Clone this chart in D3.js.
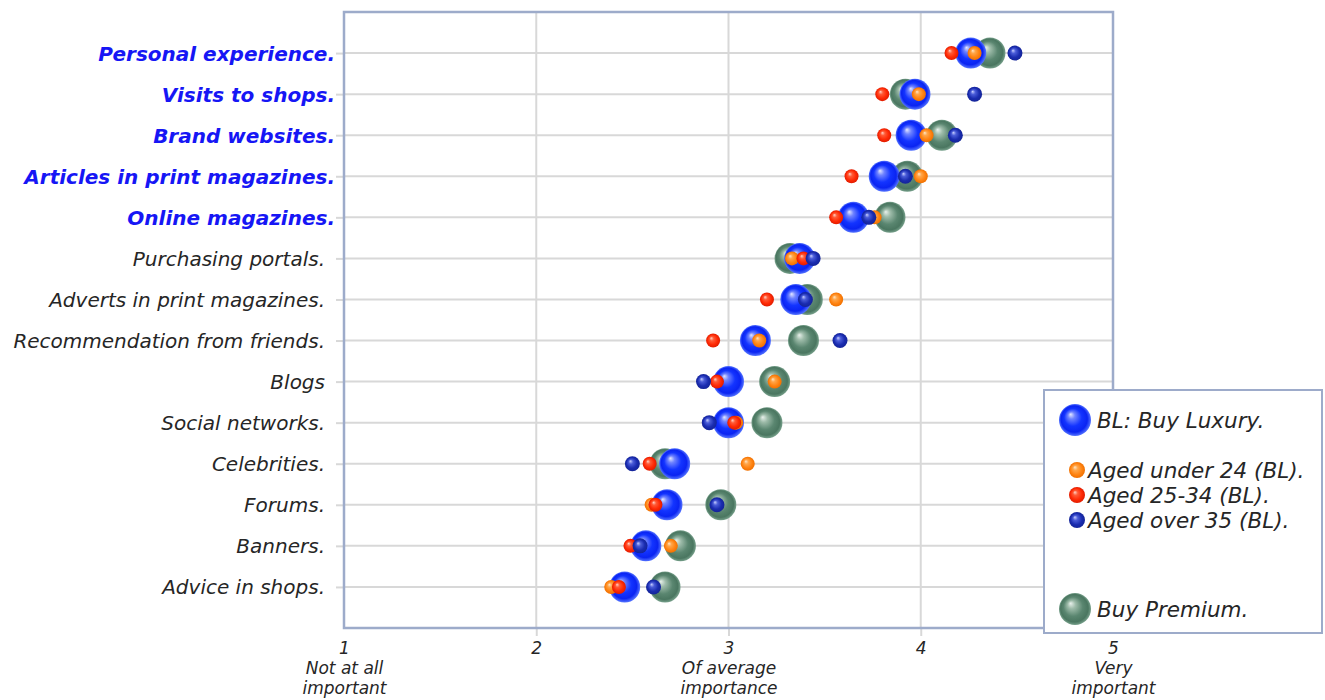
<!DOCTYPE html>
<html>
<head>
<meta charset="utf-8">
<script src="https://cdn.jsdelivr.net/npm/d3@7/dist/d3.min.js"></script>
<style>
  html, body { margin: 0; padding: 0; background: #ffffff; }
  svg { display: block; }
  text { font-family: "DejaVu Sans", Verdana, sans-serif; font-style: italic; }
</style>
</head>
<body>
<svg id="chart" width="1325" height="700"></svg>
<script>
// Sources of information, top to bottom
const categories = [
  "Personal experience.",
  "Visits to shops.",
  "Brand websites.",
  "Articles in print magazines.",
  "Online magazines.",
  "Purchasing portals.",
  "Adverts in print magazines.",
  "Recommendation from friends.",
  "Blogs",
  "Social networks.",
  "Celebrities.",
  "Forums.",
  "Banners.",
  "Advice in shops."
];
// Categories printed in bold blue
const highlighted = [
  "Personal experience.",
  "Visits to shops.",
  "Brand websites.",
  "Articles in print magazines.",
  "Online magazines."
];

// Mean importance scores (1 = not at all important, 5 = very important)
const buyLuxury  = [4.26, 3.97, 3.95, 3.81, 3.65, 3.37, 3.35, 3.14, 3.00, 3.00, 2.72, 2.68, 2.57, 2.46];
const buyPremium = [4.36, 3.92, 4.11, 3.93, 3.84, 3.32, 3.41, 3.39, 3.24, 3.20, 2.67, 2.96, 2.75, 2.67];
const agedUnder24 = [4.28, 3.99, 4.03, 4.00, 3.76, 3.33, 3.56, 3.16, 3.24, 3.04, 3.10, 2.60, 2.70, 2.39];
const aged25to34 = [4.16, 3.80, 3.81, 3.64, 3.56, 3.39, 3.20, 2.92, 2.94, 3.03, 2.59, 2.62, 2.49, 2.43];
const agedOver35 = [4.49, 4.28, 4.18, 3.92, 3.73, 3.44, 3.40, 3.58, 2.87, 2.90, 2.50, 2.94, 2.54, 2.61];

// Scale ticks and their captions
const xTicks = [1, 2, 3, 4, 5];
const xTickNotes = {1: ["Not at all", "important"], 3: ["Of average", "importance"], 5: ["Very", "important"]};

// Legend entries
const legendLabels = {
  luxury: "BL: Buy Luxury.",
  under24: "Aged under 24 (BL).",
  a2534: "Aged 25-34 (BL).",
  over35: "Aged over 35 (BL).",
  premium: "Buy Premium."
};

const svg = d3.select("#chart");
const plot = {left: 344, right: 1113, top: 12, bottom: 628};

const x = d3.scaleLinear().domain([1, 5]).range([plot.left, plot.right]);
const y = d3.scalePoint().domain(categories).range([plot.top, plot.bottom]).padding(1);

// Sphere shading
const defs = svg.append("defs");
function sphere(id, stops) {
  const g = defs.append("radialGradient").attr("id", id)
    .attr("cx", "50%").attr("cy", "50%").attr("r", "50%")
    .attr("fx", "36%").attr("fy", "32%");
  stops.forEach(([o, c]) => g.append("stop").attr("offset", o).attr("stop-color", c));
}
sphere("g-luxury",  [["0%", "#e4e8ff"], ["22%", "#6f83ff"], ["55%", "#1334ff"], ["82%", "#0a24f2"], ["100%", "#5574ff"]]);
sphere("g-premium", [["0%", "#e9f1ec"], ["25%", "#9dbba9"], ["60%", "#5a8670"], ["86%", "#4a7660"], ["100%", "#78a18c"]]);
sphere("g-under24", [["0%", "#ffe6c8"], ["30%", "#ffa64a"], ["70%", "#ff8413"], ["100%", "#f07000"]]);
sphere("g-2534",    [["0%", "#ffd4c8"], ["30%", "#ff5a36"], ["70%", "#ff2a05"], ["100%", "#e01c00"]]);
sphere("g-over35",  [["0%", "#c9d0ff"], ["30%", "#4a5cd8"], ["70%", "#1a2cb0"], ["100%", "#142498"]]);

const gridColor = "#d8d8d8";
const frameColor = "#9dabca";

// Horizontal grid lines
svg.append("g").selectAll("line").data(categories).join("line")
  .attr("x1", plot.left).attr("x2", plot.right)
  .attr("y1", d => y(d)).attr("y2", d => y(d))
  .attr("stroke", gridColor).attr("stroke-width", 2);

// Vertical grid lines
svg.append("g").selectAll("line").data(xTicks.filter(t => t > 1 && t < 5)).join("line")
  .attr("x1", d => x(d)).attr("x2", d => x(d))
  .attr("y1", plot.top).attr("y2", plot.bottom)
  .attr("stroke", gridColor).attr("stroke-width", 2);

// Left axis: ticks plus category labels
const yAxis = svg.append("g").attr("transform", `translate(${plot.left},0)`)
  .call(d3.axisLeft(y).tickSize(8).tickPadding(3));
yAxis.select(".domain").remove();
yAxis.selectAll(".tick line").attr("stroke", gridColor).attr("stroke-width", 2);
yAxis.selectAll(".tick text")
  .attr("x", d => highlighted.includes(d) ? -9 : -19)
  .attr("dy", "0.35em")
  .style("font-size", "20px")
  .style("font-weight", d => highlighted.includes(d) ? "bold" : "normal")
  .attr("fill", d => highlighted.includes(d) ? "#1616f5" : "#262626");

// Bottom axis: ticks at inner values, numbers and captions
const xAxis = svg.append("g").attr("transform", `translate(0,${plot.bottom})`)
  .call(d3.axisBottom(x).tickValues(xTicks).tickSize(8).tickFormat(d3.format("d")));
xAxis.select(".domain").remove();
xAxis.selectAll(".tick line")
  .attr("stroke", gridColor).attr("stroke-width", 2)
  .attr("opacity", d => (d === 1 || d === 5) ? 0 : 1);
xAxis.selectAll(".tick text").remove();
const tickLabel = xAxis.selectAll(".tick").append("text")
  .attr("text-anchor", "middle").attr("fill", "#262626")
  .style("font-size", "17px");
tickLabel.append("tspan").attr("x", 0).attr("y", 26).text(d => d);
tickLabel.each(function (d) {
  const notes = xTickNotes[d] || [];
  notes.forEach((line, i) => {
    d3.select(this).append("tspan").attr("x", 0).attr("y", 46 + i * 20).text(line);
  });
});

// Plot frame
svg.append("rect")
  .attr("x", plot.left).attr("y", plot.top)
  .attr("width", plot.right - plot.left).attr("height", plot.bottom - plot.top)
  .attr("fill", "none").attr("stroke", frameColor).attr("stroke-width", 2.5);

// Bubble series, back to front
const series = [
  {values: buyPremium,  fill: "url(#g-premium)", r: 15.5},
  {values: buyLuxury,   fill: "url(#g-luxury)",  r: 15.5},
  {values: agedUnder24, fill: "url(#g-under24)", r: 7},
  {values: aged25to34,  fill: "url(#g-2534)",    r: 7},
  {values: agedOver35,  fill: "url(#g-over35)",  r: 7.5}
];
series.forEach(s => {
  svg.append("g").selectAll("circle").data(categories).join("circle")
    .attr("cx", (d, i) => x(s.values[i]))
    .attr("cy", d => y(d))
    .attr("r", s.r)
    .attr("fill", s.fill);
});

// Legend
const legend = svg.append("g");
legend.append("rect")
  .attr("x", 1044).attr("y", 390).attr("width", 278).attr("height", 243)
  .attr("fill", "#ffffff").attr("stroke", frameColor).attr("stroke-width", 2);

const legendItems = [
  {key: "luxury",  fill: "url(#g-luxury)",  r: 16, cy: 420, tx: 1097},
  {key: "under24", fill: "url(#g-under24)", r: 8,  cy: 470, tx: 1088},
  {key: "a2534",   fill: "url(#g-2534)",    r: 8,  cy: 495, tx: 1088},
  {key: "over35",  fill: "url(#g-over35)",  r: 8,  cy: 520, tx: 1088},
  {key: "premium", fill: "url(#g-premium)", r: 16, cy: 609, tx: 1097}
];
const li = legend.selectAll("g.item").data(legendItems).join("g").attr("class", "item");
li.append("circle")
  .attr("cx", d => d.r > 10 ? 1075 : 1077)
  .attr("cy", d => d.cy).attr("r", d => d.r).attr("fill", d => d.fill);
li.append("text")
  .attr("x", d => d.tx).attr("y", d => d.cy).attr("dy", "0.36em")
  .attr("fill", "#262626").style("font-size", "21.5px")
  .text(d => legendLabels[d.key]);
</script>
</body>
</html>
